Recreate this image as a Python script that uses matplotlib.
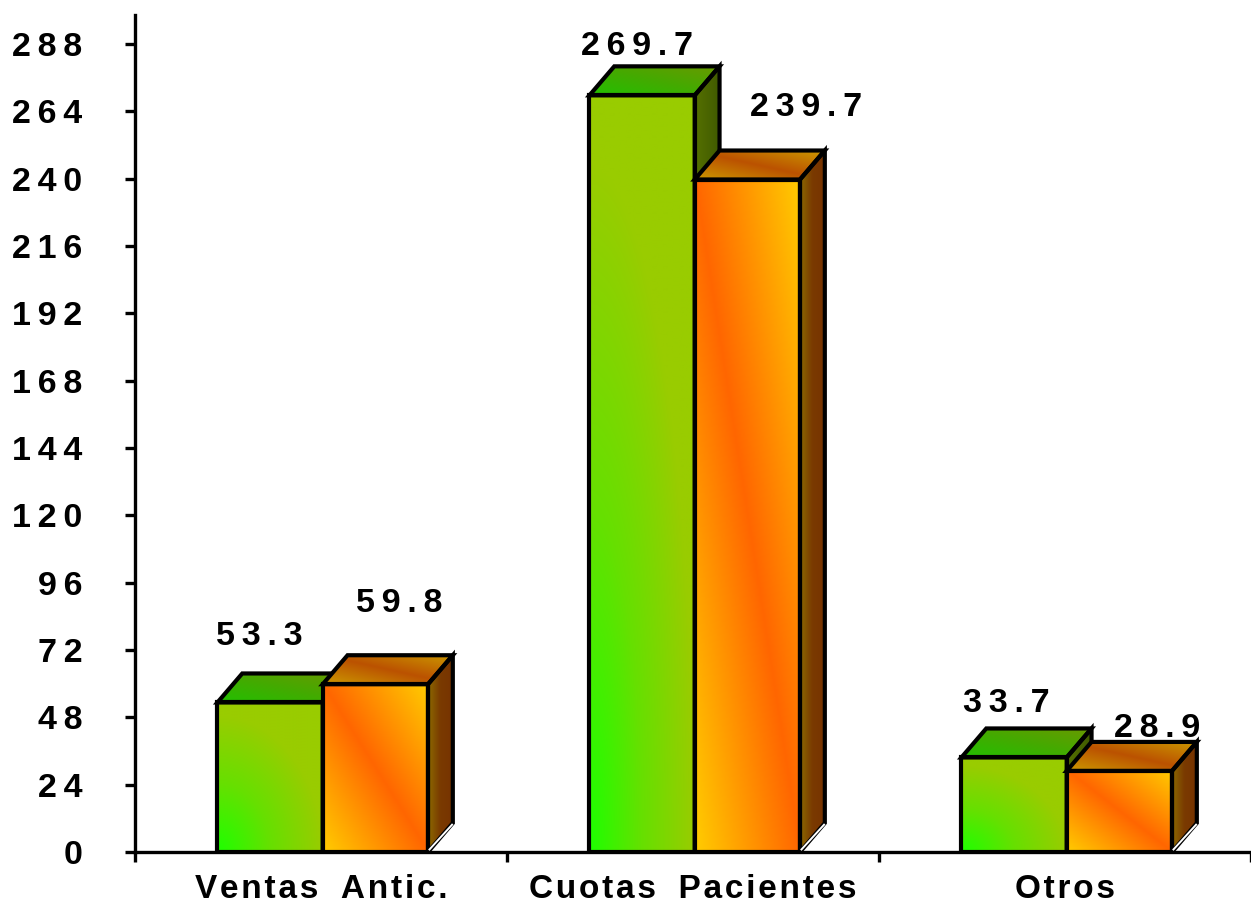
import numpy as np
import matplotlib.pyplot as plt
from matplotlib.patches import Polygon
from matplotlib.colors import LinearSegmentedColormap

# datos
categorias = ['Ventas Antic.', 'Cuotas Pacientes', 'Otros']
serie_a = [53.3, 269.7, 33.7]   # barras verdes
serie_b = [59.8, 239.7, 28.9]   # barras naranjas
yticks = list(range(0, 289, 24))

# desplazamiento de etiquetas (pixeles, respecto al centro de la barra y su tope trasero)
off_a = [(-11, 28), (-5, 11), (-8, 16)]
off_b = [(24, 43), (59, 35), (38, 5)]

FONT = ['Liberation Sans', 'DejaVu Sans']
HS = '\u2009'
HAIR = '\u200a'


def espaciar(s, sep=HS):
    return sep.join(s)


def espaciar_cat(s):
    palabras = [espaciar(p, HAIR) for p in s.split(' ')]
    return (HS + ' ' + HS).join(palabras)


cm_verde = LinearSegmentedColormap.from_list('v', ['#1eff00', '#66e000', '#99cc00'])
cm_verde_top = LinearSegmentedColormap.from_list('vt', ['#22c000', '#44aa00', '#6a9900'])
cm_verde_lado = LinearSegmentedColormap.from_list('vl', ['#557000', '#405a00'])
cm_nar = LinearSegmentedColormap.from_list('n', ['#ffcc00', '#ff6600', '#ffcc00'])
cm_nar_top = LinearSegmentedColormap.from_list('nt', ['#cc9900', '#bb5200', '#cc9900'])
cm_nar_lado = LinearSegmentedColormap.from_list('nl', ['#8c6a00', '#7a3a00', '#773300'])

fig = plt.figure(figsize=(12.51, 9.11), dpi=100)
ax = fig.add_axes([135 / 1251, 59 / 911, (1251 - 135) / 1251, (852 - 15) / 911])
XMAX = (1251 - 135) / 374.5
YMAX = 288 + (44 - 15) / 2.806
ax.set_xlim(0, XMAX)
ax.set_ylim(0, YMAX)

dx = 25 / 374.5       # profundidad en unidades de categoria
dy = 29 / 2.806       # profundidad en unidades del eje y
x0 = 0.2216
w = 0.283
LW = 3
FS = 24.5


def cara(verts, cmap, modo, z):
    verts = np.array(verts)
    xa, xb = verts[:, 0].min(), verts[:, 0].max()
    ya, yb = verts[:, 1].min(), verts[:, 1].max()
    u, v = np.meshgrid(np.linspace(0, 1, 120), np.linspace(0, 1, 200))
    if modo == 'radial':
        t = np.clip(np.sqrt(u ** 2 + (v * 1.1) ** 2), 0, 1)
    elif modo == 'diag':
        t = (u + v) / 2
    else:
        t = u
    img = ax.imshow(t, cmap=cmap, vmin=0, vmax=1, extent=(xa, xb, ya, yb),
                    origin='lower', aspect='auto', interpolation='bilinear', zorder=z)
    p = Polygon(verts, closed=True, facecolor='none', edgecolor='black',
                lw=LW, joinstyle='miter', zorder=z + 0.5)
    ax.add_patch(p)
    img.set_clip_path(p)
    return p


def barra(xl, h, cm_f, modo_f, cm_t, cm_s, z):
    xr = xl + w
    cara([(xl, 0), (xr, 0), (xr, h), (xl, h)], cm_f, modo_f, z)
    cara([(xl, h), (xl + dx, h + dy), (xr + dx, h + dy), (xr, h)], cm_t, 'diag', z)
    cara([(xr, 0), (xr + dx, dy), (xr + dx, h + dy), (xr, h)], cm_s, 'lin', z)
    ax.plot([xr + 0.004, xr + dx - 0.002], [0.9, dy - 0.6], color='white', lw=1.4, zorder=z + 0.6)


for i in range(len(categorias)):
    xa = i + x0
    xb = xa + w
    barra(xa, serie_a[i], cm_verde, 'radial', cm_verde_top, cm_verde_lado, 2)
    barra(xb, serie_b[i], cm_nar, 'diag', cm_nar_top, cm_nar_lado, 3)
    for xc, val, off in [(xa + w / 2, serie_a[i], off_a[i]), (xb + w / 2, serie_b[i], off_b[i])]:
        ax.annotate(espaciar(f'{val:.1f}'), (xc, val + dy), xytext=off,
                    textcoords='offset pixels', ha='center', va='baseline',
                    fontsize=FS, fontweight='bold', family=FONT, zorder=10)

ax.set_xlim(0, XMAX)
ax.set_ylim(0, YMAX)

for s in ['top', 'right']:
    ax.spines[s].set_visible(False)
for s in ['left', 'bottom']:
    ax.spines[s].set_linewidth(2.4)
    ax.spines[s].set_zorder(1)

ax.set_yticks(yticks)
ax.set_yticklabels([espaciar(str(t)) for t in yticks], fontsize=FS, fontweight='bold', family=FONT)
ax.tick_params(axis='y', direction='out', length=7, width=2.4, pad=31)

ax.set_xticks([0, 1, 2, 3])
ax.set_xticklabels([])
ax.tick_params(axis='x', which='major', direction='out', length=7, width=2.4)
ax.set_xticks([0.5, 1.5, 2.5], minor=True)
ax.set_xticklabels([espaciar_cat(c) for c in categorias], minor=True,
                   fontsize=FS - 0.5, fontweight='bold', family=FONT)
ax.tick_params(axis='x', which='minor', length=0, pad=16)
ax.patch.set_alpha(0)

fig.savefig('out.png', dpi=100)
